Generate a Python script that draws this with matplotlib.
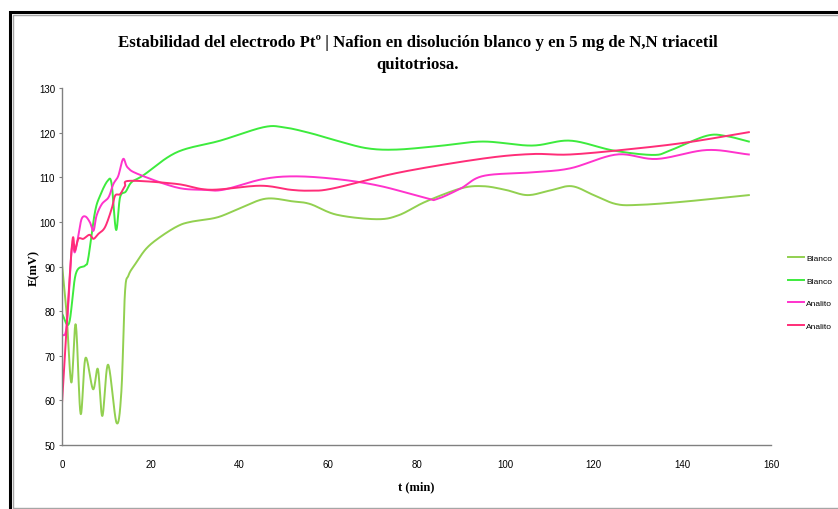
import matplotlib.pyplot as plt
import numpy as np
from matplotlib.patches import Rectangle

# data: t (min), E (mV)
blanco1_t = [0, 1, 2.1, 3.1, 4.2, 5.3, 7, 8.1, 9.1, 10.4, 12.3, 13.4, 14.2, 15, 16.5, 19, 22, 26, 29, 35,
             40, 46, 52, 56, 62, 71, 76, 82, 90, 95, 100, 105, 110, 115, 120, 125, 130, 140, 155]
blanco1_E = [90.5, 80, 64, 77, 57, 69.5, 62.5, 67, 56.5, 68, 55, 62, 84, 88, 90.5, 94, 96.5, 99, 100, 101,
             103, 105.2, 104.6, 104, 101.6, 100.6, 101.5, 104.5, 107.5, 108, 107.2, 106, 107, 108, 106,
             104, 103.8, 104.5, 106]

blanco2_t = [0, 1.6, 3.1, 5.2, 5.9, 7.4, 8.6, 10.3, 11.2, 12.2, 13.1, 14.4, 15.7, 18.3, 25.9, 35.7,
             45.4, 50, 56, 62, 68.8, 75.5, 85, 95, 106, 114.7, 124.4, 133.4, 137.2, 145.5, 150, 155]
blanco2_E = [79.4, 77.3, 88.3, 90.2, 91.7, 102, 105.9, 109.2, 108.5, 98.2, 105.5, 106.8, 108.9, 110.4,
             115.6, 118.2, 121.2, 121.2, 119.9, 118.2, 116.5, 116.2, 117, 118, 117.1, 118.2, 116, 115,
             116, 119.3, 119.2, 118]

analito1_t = [0, 1.05, 2.2, 2.9, 3.7, 4.4, 5.3, 6.3, 7.1, 7.8, 9, 10.5, 11.6, 12.7, 13.8, 14.8, 17.2,
              25.9, 31.9, 36.4, 45.4, 53, 62.8, 72, 82.3, 84.6, 90, 95.1, 106, 114.7, 125.2, 134.2,
              145.5, 155]
analito1_E = [74.4, 76.7, 93.9, 93.2, 96.9, 100.6, 101.2, 99.9, 98, 101.4, 104, 105.5, 108.5, 110.3,
              114.1, 112.2, 110.7, 107.7, 107.2, 107.2, 109.6, 110.2, 109.5, 108, 105.3, 105.1, 107.5,
              110.3, 111.1, 112, 115.1, 114.1, 116.1, 115.1]

analito2_t = [0, 2.2, 2.9, 3.7, 4.8, 6.2, 7.1, 8.2, 9.7, 11.2, 12, 13.1, 14.2, 15.3, 25.9, 33.4, 44.7,
              51.5, 56, 61.2, 76.3, 95.1, 106, 114.7, 128.2, 141, 155]
analito2_E = [59.3, 94.3, 93.5, 96.2, 96.2, 97.1, 96.2, 97.3, 98.8, 102.9, 105.9, 106.2, 108, 109.2,
              108.5, 107.2, 108.1, 107.2, 107, 107.5, 111.1, 114.2, 115.2, 115.1, 116.3, 117.8, 120.1]

series_labels = ["Blanco", "Blanco", "Analito", "Analito"]
series_colors = ["#92D050", "#3DEB3D", "#FF33CC", "#FF2D78"]


def smooth(x, y, n=20):
    # catmull-rom through the points, like excel's smoothed lines
    x = np.asarray(x, float)
    y = np.asarray(y, float)
    px = np.concatenate([[2 * x[0] - x[1]], x, [2 * x[-1] - x[-2]]])
    py = np.concatenate([[2 * y[0] - y[1]], y, [2 * y[-1] - y[-2]]])
    s = np.linspace(0, 1, n, endpoint=False)
    xs, ys = [], []
    for i in range(1, len(px) - 2):
        for arr, out in ((px, xs), (py, ys)):
            p0, p1, p2, p3 = arr[i - 1], arr[i], arr[i + 1], arr[i + 2]
            out.extend(0.5 * (2 * p1 + (-p0 + p2) * s + (2 * p0 - 5 * p1 + 4 * p2 - p3) * s ** 2
                              + (-p0 + 3 * p1 - 3 * p2 + p3) * s ** 3))
    xs.append(x[-1])
    ys.append(y[-1])
    return np.array(xs), np.array(ys)


fig = plt.figure(figsize=(8.38, 5.10), dpi=100)
fig.patches.append(Rectangle((9.5 / 838, -0.05), 1.2, 1.05 - 12.5 / 510, transform=fig.transFigure,
                             fill=False, edgecolor="black", linewidth=2.2))
fig.patches.append(Rectangle((13 / 838, 1 / 510), 1.2, 1 - 17 / 510, transform=fig.transFigure,
                             fill=False, edgecolor="#A6A6A6", linewidth=1.0))

ax = fig.add_axes([62 / 838, 64 / 510, 709 / 838, 357 / 510])

all_data = [(blanco1_t, blanco1_E), (blanco2_t, blanco2_E), (analito1_t, analito1_E), (analito2_t, analito2_E)]
for (t, E), lab, col in zip(all_data, series_labels, series_colors):
    xs, ys = smooth(t, E)
    ax.plot(xs, ys, color=col, linewidth=1.4, label=lab)

ax.set_xlim(0, 160)
ax.set_ylim(50, 130)
ax.set_xticks(np.arange(0, 161, 20))
ax.set_yticks(np.arange(50, 131, 10))
for s in ["top", "right"]:
    ax.spines[s].set_visible(False)
for s in ["left", "bottom"]:
    ax.spines[s].set_color("#808080")
    ax.spines[s].set_linewidth(1.0)
ax.tick_params(axis="both", labelsize=7, colors="#808080", labelcolor="black", length=3, width=0.8)
for lbl in ax.get_xticklabels() + ax.get_yticklabels():
    lbl.set_family("Liberation Sans")
ax.tick_params(axis="x", length=0, pad=10)
ax.tick_params(axis="y", length=2, pad=3)

ax.set_xlabel("t (min)", fontsize=9, fontweight="bold", family="Liberation Serif", labelpad=8)
ax.set_ylabel("E(mV)", fontsize=9, fontweight="bold", family="Liberation Serif")
ax.yaxis.set_label_coords(-22 / 709, 0.5)

fig.text(0.5 * (117 + 718) / 838, 1 - 54 / 510,
         "Estabilidad del electrodo Ptº | Nafion en disolución blanco y en 5 mg de N,N triacetil\nquitotriosa.",
         ha="center", va="center", fontsize=12.1, fontweight="bold", family="Liberation Serif",
         linespacing=1.55)

fig.legend(loc="center left", bbox_to_anchor=(784 / 838, 1 - 293 / 510), frameon=False,
           prop={"family": "Liberation Sans", "size": 6},
           handlelength=1.9, handletextpad=0.25, labelspacing=1.75, borderpad=0)

fig.savefig("out.png", dpi=100)
